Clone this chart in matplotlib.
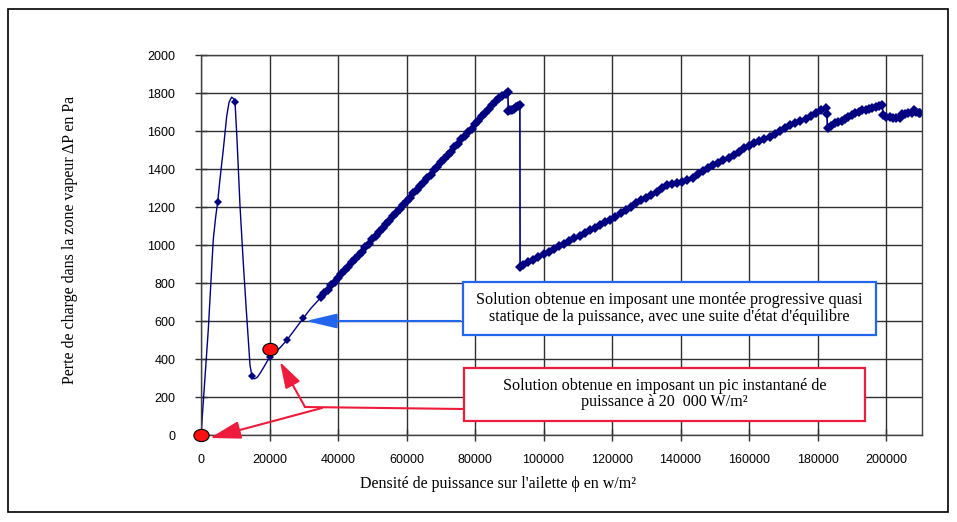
import matplotlib.pyplot as plt
from matplotlib.patches import Rectangle, FancyArrowPatch
from matplotlib.path import Path
import matplotlib.transforms as mtrans

# Smoothed start of the curve (line only)
smooth_x = [0, 1000, 2130, 3000, 3590, 4300, 4880, 5500, 6510, 7500, 8200, 8960, 9500, 9930,
            10500, 11390, 12300, 13140, 14310, 14890, 15400, 15770, 16500, 17500, 18500, 19300,
            20150, 21500, 23000, 25110, 27500, 29870, 32000, 34745]
smooth_y = [0, 260, 555, 840, 1030, 1150, 1228, 1340, 1502, 1677, 1752, 1778, 1770, 1752,
            1560, 1205, 920, 681, 367, 309, 296, 297, 305, 332, 362, 388,
            410, 432, 458, 500, 558, 615, 665, 719]

# Isolated measured points on that start
sparse_x = [4880, 9930, 14890, 20150, 25110, 29870]
sparse_y = [1228, 1752, 309, 410, 500, 615]

# Quasi-static ramp (dense measurements)
ramp_x = [35000, 36000, 37000, 38000, 39000, 40000, 41000, 42000, 43000, 44000,
          45000, 46000, 47000, 48000, 49000, 50000, 51000, 52000, 53000, 54000,
          55000, 56000, 57000, 58000, 59000, 60000, 61000, 62000, 63000, 64000,
          65000, 66000, 67000, 68000, 69000, 70000, 71000, 72000, 73000, 74000,
          75000, 76000, 77000, 78000, 79000, 80000, 81000, 82000, 83000, 84000,
          85000, 86000, 87000, 88000, 89000, 89600,
          89700, 90200, 90800, 91400, 92000, 92600, 93100,
          93150, 94000, 95500, 97000, 98500, 100000, 101500, 103000, 104500, 106000,
          107500, 109000, 110500, 112000, 113500, 115000, 116500, 118000, 119500, 121000,
          122500, 124000, 125500, 127000, 128500, 130000, 131500, 133000, 134500, 136000,
          137500, 139000, 140500, 142000, 143500, 145000, 146500, 148000, 149500, 151000,
          152500, 154000, 155500, 157000, 158500, 160000, 161500, 163000, 164500, 166000,
          167500, 169000, 170500, 172000, 173500, 175000, 176500, 178000, 179500, 181000,
          182500, 182700, 182900,
          184000, 185000, 186000, 187000, 188000, 189000, 190000, 191000, 192000, 193000,
          194000, 195000, 196000, 197000, 198000, 198800, 199200, 200000, 201000, 202000,
          203000, 204000, 204700, 205500, 206500, 207500, 208200, 208800, 209500, 210000]
ramp_y = [724, 746, 763, 787, 804, 828, 845, 868, 884, 908,
          925, 949, 965, 989, 1005, 1030, 1046, 1070, 1087, 1111,
          1127, 1151, 1168, 1192, 1208, 1232, 1248, 1273, 1289, 1313,
          1329, 1354, 1370, 1394, 1410, 1435, 1451, 1475, 1491, 1515,
          1532, 1556, 1572, 1596, 1613, 1637, 1653, 1677, 1694, 1716,
          1736, 1757, 1772, 1785, 1797, 1805,
          1703, 1708, 1712, 1718, 1726, 1733, 1738,
          886, 894, 908, 922, 936, 951, 965, 979, 993, 1007,
          1021, 1035, 1050, 1064, 1078, 1092, 1106, 1120, 1134, 1149,
          1166, 1182, 1198, 1222, 1238, 1250, 1262, 1280, 1300, 1315,
          1322, 1326, 1330, 1340, 1355, 1372, 1388, 1405, 1420, 1431,
          1445, 1460, 1474, 1490, 1508, 1522, 1535, 1547, 1558, 1570,
          1585, 1600, 1616, 1630, 1643, 1655, 1665, 1680, 1695, 1710,
          1722, 1690, 1615,
          1625, 1640, 1648, 1655, 1665, 1675, 1685, 1695, 1702, 1708,
          1713, 1718, 1722, 1726, 1730, 1737, 1684, 1676, 1672, 1670,
          1670, 1671, 1688, 1690, 1693, 1695, 1708, 1700, 1697, 1696]

# Red points (instantaneous peak solution)
red_x = [0, 20000]
red_y = [0, 455]

x_ticks = list(range(0, 200001, 20000))
y_ticks = list(range(0, 2001, 200))

W, H = 957, 522
navy = '#000080'
blue = '#2266ee'
red = '#ee1c3c'
serif = ['Liberation Serif', 'DejaVu Serif']


def fp(x, y):
    # pixel position -> figure fraction
    return (x / W, 1 - y / H)


fig = plt.figure(figsize=(W / 100, H / 100), dpi=100)
fig.patches.append(Rectangle(fp(8, 512), 940 / W, 503 / H, transform=fig.transFigure,
                             fill=False, edgecolor='black', lw=1.2))

ax = fig.add_axes([201 / W, 87 / H, 720.7 / W, 380 / H])
ax.plot(smooth_x, smooth_y, color=navy, lw=1)
ax.plot(ramp_x, ramp_y, color=navy, lw=1.2, marker='D', ms=5.5, mew=0)
ax.plot(sparse_x, sparse_y, color=navy, ls='none', marker='D', ms=4.5, mew=0)

ell = Path.unit_circle().transformed(mtrans.Affine2D().scale(1.25, 1))
ax.plot(red_x, red_y, ls='none', marker=ell, ms=11, mfc='#ff1010', mec='black', mew=0.8,
        clip_on=False, zorder=5)

ax.set_xlim(0, 210400)
ax.set_ylim(0, 2000)
ax.set_xticks(x_ticks)
ax.set_yticks(y_ticks)
ax.set_xticklabels([str(v) for v in x_ticks], family='Liberation Sans', fontsize=9)
ax.set_yticklabels([str(v) for v in y_ticks], family='Liberation Sans', fontsize=9)
ax.tick_params(axis='x', direction='inout', length=9, width=1, pad=9, color='#303030')
ax.tick_params(axis='y', direction='inout', length=9, width=1, pad=14, color='#303030')
ax.grid(True, color='#303030', lw=1)
for s in ax.spines.values():
    s.set_color('#404040')
    s.set_linewidth(1)

fig.text(*fp(498, 484), "Densité de puissance sur l'ailette \u03d5 en w/m²", family=serif,
         fontsize=11.5, ha='center', va='center')
fig.text(*fp(70, 240), 'Perte de charge dans la zone vapeur ΔP en Pa', family=serif,
         fontsize=11.5, ha='center', va='center', rotation=90)

# annotation boxes
fig.patches.append(Rectangle(fp(463.3, 335), 412.4 / W, 53.3 / H, transform=fig.transFigure,
                             facecolor='white', edgecolor=blue, lw=1.6, zorder=6))
fig.text(*fp(669.5, 308.5), "Solution obtenue en imposant une montée progressive quasi\n"
         "statique de la puissance, avec une suite d'état d'équilibre",
         family=serif, fontsize=11.6, ha='center', va='center', linespacing=1.08, zorder=7)
fig.patches.append(Rectangle(fp(464.3, 420.7), 400.7 / W, 52.4 / H, transform=fig.transFigure,
                             facecolor='white', edgecolor=red, lw=1.6, zorder=6))
fig.text(*fp(664.7, 394), "Solution obtenue en imposant un pic instantané de\n"
         "puissance à 20  000 W/m²",
         family=serif, fontsize=11.6, ha='center', va='center', linespacing=1.08, zorder=7)

# arrows
fig.patches.append(FancyArrowPatch(fp(463, 321), fp(303, 321), transform=fig.transFigure,
                                   arrowstyle='-|>,head_length=19,head_width=4.5',
                                   mutation_scale=1, color=blue, lw=1.5, zorder=6))
fig.lines.append(plt.Line2D([463 / W, 305 / W], [1 - 409 / H, 1 - 407 / H],
                            transform=fig.transFigure, color=red, lw=1.5, zorder=6))
fig.patches.append(FancyArrowPatch(fp(305, 407), fp(280, 362), transform=fig.transFigure,
                                   arrowstyle='-|>,head_length=16,head_width=5',
                                   mutation_scale=1, color=red, lw=1.5, zorder=6,
                                   shrinkA=0, shrinkB=0))
fig.patches.append(FancyArrowPatch(fp(322, 408), fp(210, 438), transform=fig.transFigure,
                                   arrowstyle='-|>,head_length=19,head_width=5.5',
                                   mutation_scale=1, color=red, lw=1.5, zorder=6,
                                   shrinkA=0, shrinkB=0))

fig.savefig('out.png', dpi=100)
